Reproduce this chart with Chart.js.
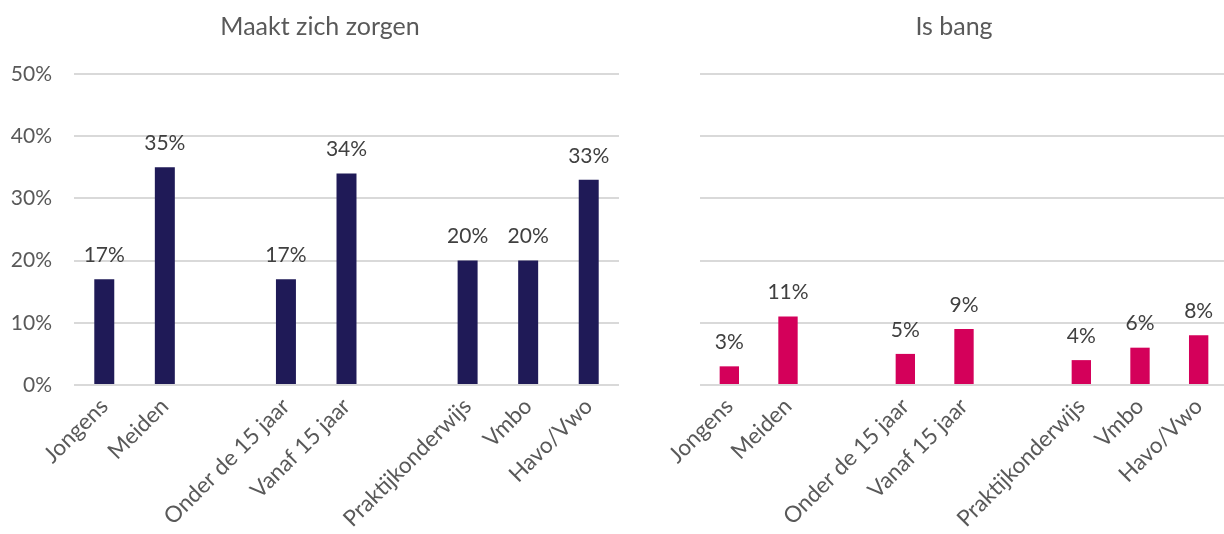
<!DOCTYPE html>
<html>
<head>
<meta charset="utf-8">
<script src="https://cdn.jsdelivr.net/npm/chart.js@4"></script>
<style>
    html, body { margin: 0; padding: 0; background: #fff; overflow: hidden; }
    body { width: 1224px; height: 534px; position: relative; }
    #zorgen-wrap { position: absolute; left: 0; top: 0; width: 640px; height: 534px; }
    #bang-wrap { position: absolute; left: 660px; top: 0; width: 568px; height: 534px; }
</style>
</head>
<body>
<div id="zorgen-wrap"><canvas id="zorgen-chart" width="640" height="534"></canvas></div>
<div id="bang-wrap"><canvas id="bang-chart" width="568" height="534"></canvas></div>
<script>
// empty strings are the spacer slots between the groups
const categories = ['Jongens', 'Meiden', '', 'Onder de 15 jaar', 'Vanaf 15 jaar', '', 'Praktijkonderwijs', 'Vmbo', 'Havo/Vwo'];
const zorgenValues = [17, 35, null, 17, 34, null, 20, 20, 33];
const bangValues = [3, 11, null, 5, 9, null, 4, 6, 8];
const yTicks = [0, 10, 20, 30, 40, 50];

const FONT = 'Lato, "Open Sans", sans-serif';

// value above each bar + the panel title (drawn by hand so it can sit at a fixed x)
const panelText = {
    id: 'panelText',
    afterDatasetsDraw(chart, args, opts) {
        const ctx = chart.ctx;
        const meta = chart.getDatasetMeta(0);
        const values = chart.data.datasets[0].data;
        ctx.save();
        ctx.textAlign = 'center';
        ctx.textBaseline = 'middle';
        ctx.font = '21px ' + FONT;
        ctx.fillStyle = '#404040';
        meta.data.forEach(function(bar, i) {
            if (values[i] == null) return;
            ctx.fillText(values[i] + '%', bar.x, bar.y - 24);
        });
        ctx.font = '25px ' + FONT;
        ctx.fillStyle = '#595959';
        ctx.fillText(opts.text, opts.x, 27);
        ctx.restore();
    }
};

function createPanel(canvasId, title, titleX, values, color, showYLabels, yWidth, rightPad) {
    const ctx = document.getElementById(canvasId).getContext('2d');
    return new Chart(ctx, {
        type: 'bar',
        data: {
            labels: categories,
            datasets: [{
                data: values,
                backgroundColor: color,
                barPercentage: 0.33,
                categoryPercentage: 1.0
            }]
        },
        options: {
            responsive: false,
            animation: false,
            layout: { padding: { top: 74, right: rightPad, bottom: 0, left: 0 } },
            plugins: {
                legend: { display: false },
                tooltip: { enabled: false },
                title: { display: false },
                panelText: { text: title, x: titleX }
            },
            scales: {
                x: {
                    grid: { display: false, drawTicks: false },
                    border: { display: false },
                    ticks: {
                        color: '#595959',
                        font: { family: FONT, size: 22.5 },
                        minRotation: 45,
                        maxRotation: 45,
                        autoSkip: false,
                        padding: 8
                    },
                    afterFit: function(scale) { scale.height = 149; }
                },
                y: {
                    min: 0,
                    max: 50,
                    afterBuildTicks: function(scale) {
                        scale.ticks = yTicks.map(v => ({ value: v }));
                    },
                    grid: { color: '#d9d9d9', lineWidth: 2, drawTicks: false },
                    border: { display: false },
                    ticks: {
                        display: showYLabels,
                        color: '#595959',
                        font: { family: FONT, size: 21 },
                        padding: 22,
                        callback: function(value) { return value + '%'; }
                    },
                    afterFit: function(scale) { scale.width = yWidth; }
                }
            }
        },
        plugins: [panelText]
    });
}

document.addEventListener('DOMContentLoaded', function() {
    createPanel('zorgen-chart', 'Maakt zich zorgen', 320, zorgenValues, '#1f1a57', true, 74, 21);
    createPanel('bang-chart', 'Is bang', 294, bangValues, '#d4005a', false, 40, 0);
});
</script>
</body>
</html>
